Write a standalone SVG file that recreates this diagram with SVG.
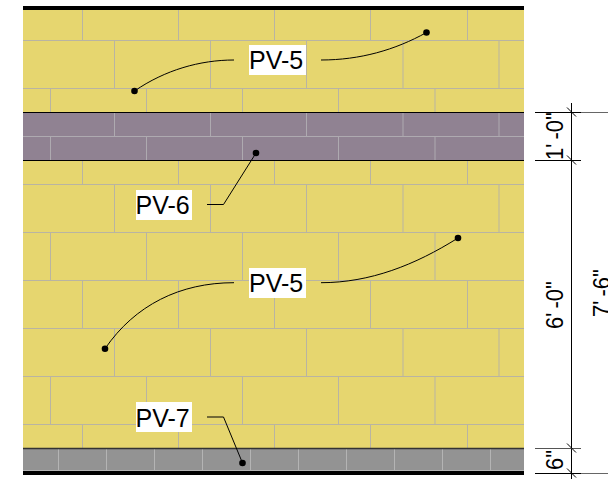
<svg xmlns="http://www.w3.org/2000/svg" width="608" height="479" viewBox="0 0 608 479">
<defs><style>
.lbl{font:25px "Liberation Sans",Arial,sans-serif;fill:#000}
.dim{font:22px "Liberation Sans",Arial,sans-serif;fill:#000;word-spacing:-2px}
.j{stroke:#b9b4a2;stroke-width:1;fill:none}
.jd{stroke:#aeaab0;stroke-width:1;fill:none}
.jg{stroke:#b4b4b4;stroke-width:1;fill:none}
.ln{fill:none;stroke:#000;stroke-width:1}
.d{stroke:#000;stroke-width:1;fill:none}
</style></defs>
<rect width="608" height="479" fill="#fff"/>
<g id="wall">
<rect x="23" y="9" width="501" height="103" fill="#e6d66f"/>
<rect x="23" y="112" width="501" height="48" fill="#908292"/>
<rect x="23" y="160" width="501" height="288" fill="#e6d66f"/>
<rect x="23" y="448" width="501" height="24" fill="#939393"/>
<path class="j" d="M23 40.500H524M23 88.500H524M23 184.500H524M23 232.500H524M23 280.500H524M23 328.500H524M23 376.500H524M23 424.500H524"/>
<path class="j" d="M82.500 10V40M178.500 10V40M274.500 10V40M370.500 10V40M467.500 10V40
M114.500 40V88M210.500 40V88M306.500 40V88M403 40V88M499 40V88
M50.500 88V112M146.500 88V112M242.500 88V112M338.500 88V112M435 88V112
M82.500 160V184M178.500 160V184M274.500 160V184M370.500 160V184M467.500 160V184
M114.500 184V232M210.500 184V232M306.500 184V232M403 184V232M499 184V232
M50.500 232V280M146.500 232V280M242.500 232V280M338.500 232V280M435 232V280
M82.500 280V328M178.500 280V328M274.500 280V328M370.500 280V328M467.500 280V328
M114.500 328V376M210.500 328V376M306.500 328V376M403 328V376M499 328V376
M50.500 376V424M146.500 376V424M242.500 376V424M338.500 376V424M435 376V424
M82.500 424V448M178.500 424V448M274.500 424V448M370.500 424V448M467.500 424V448"/>
<path class="jd" d="M23 136.500H524M114.500 112V136M210.500 112V136M306.500 112V136M403 112V136M499 112V136M50.500 136V160M146.500 136V160M242.500 136V160M338.500 136V160M435 136V160"/>
<path class="jg" d="M58.500 449V471M106.500 449V471M154.500 449V471M202.500 449V471M250.500 449V471M298.500 449V471M346.500 449V471M394.500 449V471M442.500 449V471M490.500 449V471M23 470.500H524"/>
<path d="M23 8H524" stroke="#000" stroke-width="4" fill="none"/>
<path d="M23 112.500H524M23 160.500H524" stroke="#000" stroke-width="1" fill="none"/>
<path d="M23 448.500H524" stroke="#333" stroke-width="1.500" fill="none"/>
<rect x="23" y="471" width="501" height="4" fill="#000"/>
</g>
<g id="connectors">
<path class="ln" d="M234 60C200 60 165 70 134.500 91"/>
<path class="ln" d="M321 60C360 60 395 50 426.500 32.500"/>
<path class="ln" d="M207 204.500H223.500L256 153"/>
<path class="ln" d="M234 282.700C180 282.700 135 305 105 348.700"/>
<path class="ln" d="M321 282.700C370 282.700 415 265 458 238"/>
<path class="ln" d="M207 417H223.500L242.500 463"/>
<g fill="#000">
<circle cx="134.500" cy="91" r="3.300"/><circle cx="426.500" cy="32.500" r="3.300"/><circle cx="256" cy="153" r="3.300"/>
<circle cx="458" cy="238" r="3.300"/><circle cx="105" cy="348.700" r="3.300"/><circle cx="242.500" cy="463" r="3.300"/>
</g>
</g>
<g id="label-pv5-top"><rect x="249" y="45" width="57" height="30" fill="#fff"/><text class="lbl" x="249" y="69">PV-5</text></g>
<g id="label-pv6"><rect x="136" y="190" width="56" height="30" fill="#fff"/><text class="lbl" x="135.500" y="213.500">PV-6</text></g>
<g id="label-pv5-mid"><rect x="249" y="268" width="57" height="30" fill="#fff"/><text class="lbl" x="249" y="292">PV-5</text></g>
<g id="label-pv7"><rect x="136" y="402" width="56" height="30" fill="#fff"/><text class="lbl" x="135.500" y="426.500">PV-7</text></g>
<g id="dimensions">
<path class="d" d="M571.500 103V479"/>
<path class="d" d="M535 112.500H581M535 160.500H581M535 473.500H581"/>
<path d="M581 112.500H608M581 473.500H608" stroke="#666" stroke-width="1" fill="none"/>
<path d="M535 448.500H581" stroke="#555" stroke-width="1" fill="none"/>
<path class="d" d="M567 107.500L576 116.500M567 155.500L576 164.500M567 443.500L576 452.500M567 468.500L576 477.500"/>
<text class="dim" transform="translate(563 160) rotate(-90) scale(1 1.100)">1' -0"</text>
<text class="dim" transform="translate(563 329) rotate(-90) scale(1 1.100)">6' -0"</text>
<text class="dim" transform="translate(563 470) rotate(-90) scale(1 1.100)">6"</text>
<text class="dim" transform="translate(610 317) rotate(-90) scale(1 1.100)">7' -6"</text>
</g>
</svg>
